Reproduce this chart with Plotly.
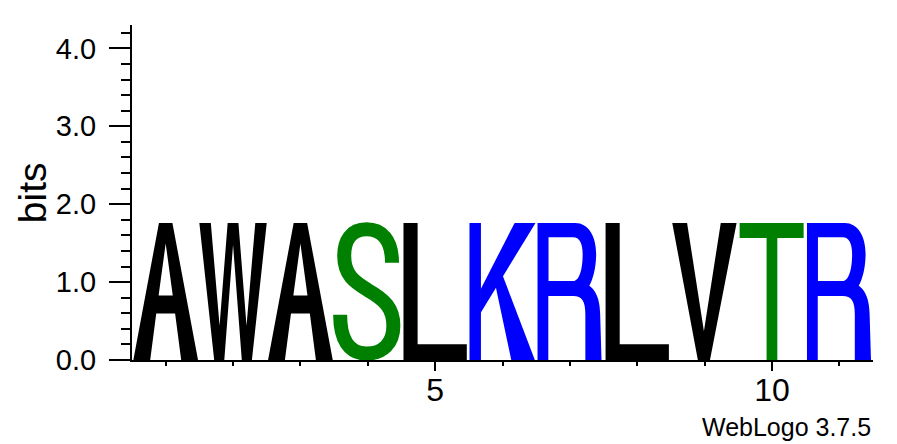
import plotly.graph_objects as go

# sequence logo: one letter per position, height in bits
positions = [1, 2, 3, 4, 5, 6, 7, 8, 9, 10, 11]
letters = ["A", "W", "A", "S", "L", "K", "R", "L", "V", "T", "R"]
heights = [1.76, 1.76, 1.76, 1.76, 1.76, 1.76, 1.76, 1.76, 1.76, 1.76, 1.76]

# weblogo protein colour scheme
colors = {
    "A": "#000000", "W": "#000000", "L": "#000000", "V": "#000000",
    "S": "#008000", "T": "#008000",
    "K": "#0000FF", "R": "#0000FF",
}

# glyph outlines in a unit box (u across the column, v up the letter)
GLYPHS = {
    "A": [("fill", [("M", 0.02, 0), ("L", 0.40, 1), ("L", 0.60, 1), ("L", 0.98, 0),
                    ("L", 0.73, 0), ("L", 0.64, 0.34), ("L", 0.36, 0.34), ("L", 0.27, 0), ("Z",),
                    ("M", 0.395, 0.47), ("L", 0.605, 0.47), ("L", 0.5, 0.85), ("Z",)])],
    "W": [("fill", [("M", 0, 1), ("L", 0.17, 1), ("L", 0.30, 0.25), ("L", 0.42, 1),
                    ("L", 0.58, 1), ("L", 0.70, 0.25), ("L", 0.83, 1), ("L", 1, 1),
                    ("L", 0.78, 0), ("L", 0.63, 0), ("L", 0.5, 0.84), ("L", 0.37, 0),
                    ("L", 0.22, 0), ("Z",)])],
    "S": [("stroke", [("M", 0.86, 0.71),
                      ("C", 0.86, 0.88, 0.70, 0.953, 0.48, 0.953),
                      ("C", 0.25, 0.953, 0.15, 0.87, 0.15, 0.76),
                      ("C", 0.15, 0.62, 0.30, 0.57, 0.50, 0.51),
                      ("C", 0.75, 0.44, 0.88, 0.38, 0.88, 0.25),
                      ("C", 0.88, 0.12, 0.72, 0.047, 0.48, 0.047),
                      ("C", 0.22, 0.047, 0.09, 0.15, 0.09, 0.33)])],
    "L": [("fill", [("M", 0.03, 0), ("L", 0.03, 1), ("L", 0.24, 1), ("L", 0.24, 0.115),
                    ("L", 0.97, 0.115), ("L", 0.97, 0), ("Z",)])],
    "K": [("fill", [("M", 0.01, 0), ("L", 0.01, 1), ("L", 0.18, 1), ("L", 0.18, 0), ("Z",)]),
          ("fill", [("M", 0.17, 0.34), ("L", 0.99, 1), ("L", 0.68, 1), ("L", 0.17, 0.51), ("Z",)]),
          ("fill", [("M", 0.63, 0), ("L", 0.98, 0), ("L", 0.50, 0.62), ("L", 0.38, 0.58), ("Z",)])],
    "R": [("fill", [("M", 0.02, 0), ("L", 0.02, 1), ("L", 0.18, 1), ("L", 0.18, 0), ("Z",)]),
          ("fill", [("M", 0.1, 1), ("L", 0.58, 1), ("C", 0.78, 1, 0.89, 0.9, 0.89, 0.775),
                    ("C", 0.89, 0.62, 0.78, 0.466, 0.58, 0.466), ("L", 0.1, 0.466), ("Z",),
                    ("M", 0.18, 0.895), ("L", 0.55, 0.895), ("C", 0.64, 0.895, 0.69, 0.85, 0.69, 0.775),
                    ("C", 0.69, 0.66, 0.64, 0.576, 0.55, 0.576), ("L", 0.18, 0.576), ("Z",)]),
          ("fill", [("M", 0.55, 0.576), ("C", 0.80, 0.576, 0.95, 0.50, 0.95, 0.33),
                    ("L", 0.97, 0), ("L", 0.73, 0), ("L", 0.73, 0.33),
                    ("C", 0.73, 0.43, 0.68, 0.466, 0.55, 0.466), ("Z",)])],
    "V": [("fill", [("M", 0.02, 1), ("L", 0.24, 1), ("L", 0.49, 0.21), ("L", 0.74, 1),
                    ("L", 0.975, 1), ("L", 0.58, 0), ("L", 0.40, 0), ("Z",)])],
    "T": [("fill", [("M", 0.02, 1), ("L", 0.97, 1), ("L", 0.97, 0.89), ("L", 0.58, 0.89),
                    ("L", 0.58, 0), ("L", 0.42, 0), ("L", 0.42, 0.89), ("L", 0.02, 0.89), ("Z",)])],
}


def glyph_path(segs, x0, y0, w, h):
    out = []
    for seg in segs:
        if seg[0] == "Z":
            out.append("Z")
            continue
        pts = seg[1:]
        xy = [f"{x0 + pts[i] * w:.4f},{y0 + pts[i + 1] * h:.4f}" for i in range(0, len(pts), 2)]
        out.append(seg[0] + " " + " ".join(xy))
    return " ".join(out)


FONT = "Liberation Sans, Arial, Helvetica, sans-serif"

fig = go.Figure()
# invisible trace so the subplot exists and hover works
fig.add_trace(go.Scatter(x=positions, y=heights, mode="markers", text=letters,
                         marker=dict(opacity=0), hoverinfo="x+y+text", showlegend=False))

shapes = []
for pos, let, hgt in zip(positions, letters, heights):
    col = colors[let]
    for kind, segs in GLYPHS[let]:
        path = glyph_path(segs, pos - 0.5, 0, 1.0, hgt)
        if kind == "fill":
            shapes.append(dict(type="path", path=path, xref="x", yref="y",
                               fillcolor=col, fillrule="evenodd", line=dict(width=0), layer="above"))
        else:
            shapes.append(dict(type="path", path=path, xref="x", yref="y",
                               fillcolor="rgba(0,0,0,0)", line=dict(color=col, width=14), layer="above"))

# page body has an 8px margin, so the figure is 8px smaller and margins shifted
fig.update_layout(
    width=889, height=436,
    margin=dict(l=124, r=24, t=17, b=84),
    plot_bgcolor="white", paper_bgcolor="white",
    font=dict(family=FONT, color="black"),
    shapes=shapes,
    xaxis=dict(range=[0.5, 11.5], showgrid=False, zeroline=False,
               showline=True, linecolor="black", linewidth=2,
               tickmode="linear", tick0=0, dtick=5, ticks="outside", ticklen=9,
               tickwidth=2, tickcolor="black", tickfont=dict(size=32), ticklabelstandoff=-8,
               minor=dict(dtick=1, tick0=0, ticks="outside", ticklen=4, tickwidth=2, tickcolor="black")),
    yaxis=dict(range=[0, 4.3], showgrid=False, zeroline=False,
               showline=True, linecolor="black", linewidth=2,
               tickmode="linear", tick0=0, dtick=1, tickformat=".1f",
               ticks="outside", ticklen=21, tickwidth=2, tickcolor="black",
               tickfont=dict(size=29), ticklabelstandoff=7,
               minor=dict(dtick=0.2, tick0=0, ticks="outside", ticklen=9, tickwidth=2, tickcolor="black")),
    annotations=[
        dict(text="bits", xref="paper", yref="paper", x=-0.134, y=0.5, textangle=-90,
             xanchor="center", yanchor="middle", showarrow=False, font=dict(size=39)),
        dict(text="WebLogo 3.7.5", xref="paper", yref="paper", x=1.0, y=-0.2,
             xanchor="right", yanchor="middle", showarrow=False, font=dict(size=25)),
    ],
)

fig.write_html("out.html")
